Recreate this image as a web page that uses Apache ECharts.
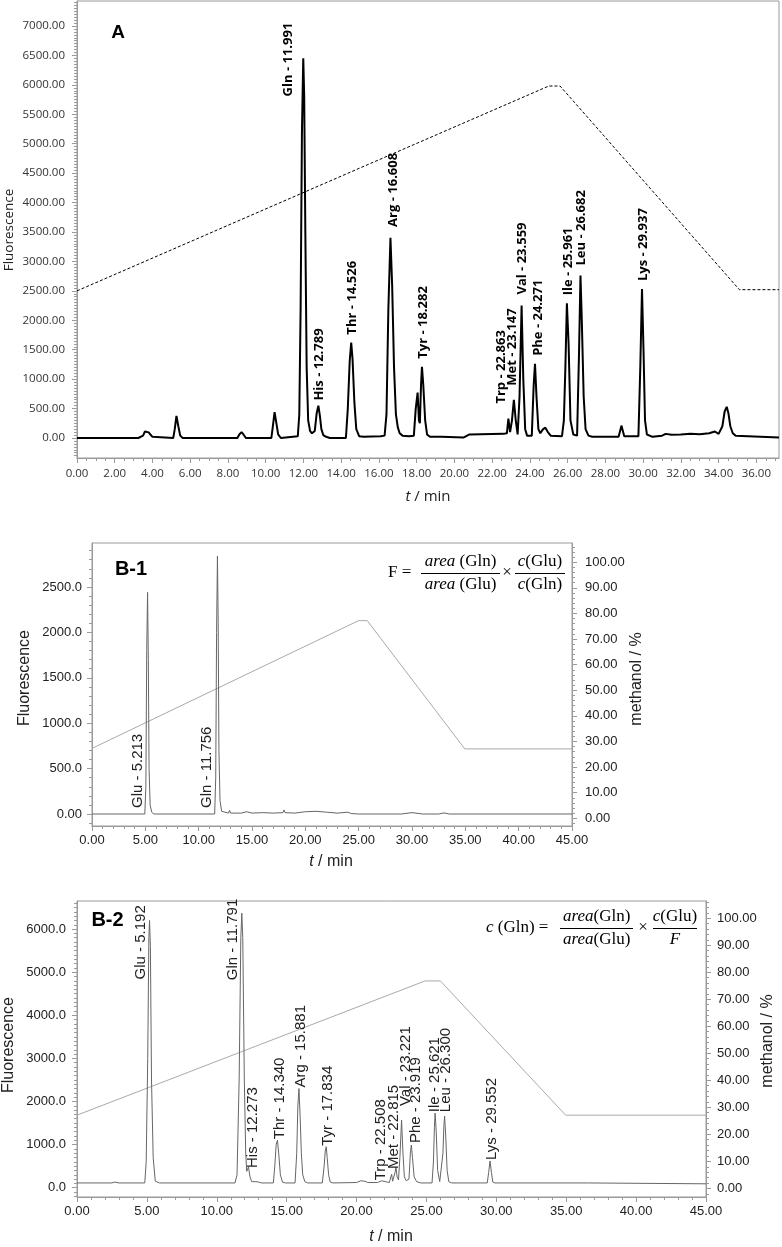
<!DOCTYPE html>
<html>
<head>
<meta charset="utf-8">
<script src="https://cdn.jsdelivr.net/npm/echarts@6/dist/echarts.min.js"></script>
<style>html,body{margin:0;padding:0;background:#fff}#c{width:782px;height:1247px}</style>
</head>
<body>
<div id="c"></div>
<script>
// ---------------- DATA ----------------
// Panel A chromatogram [t (min), fluorescence]
const traceA = [[0,0],[2.7,0],[2.8,25],[2.9,0],[3.25,0],[3.3,15],[3.35,0],[3.5,40],[3.6,110],[3.7,85],[3.8,95],[3.9,55],[4.0,20],[4.1,0],
[5.1,0],[5.18,150],[5.27,375],[5.37,200],[5.47,40],[5.6,0],
[8.5,0],[8.6,60],[8.72,100],[8.82,60],[8.95,0],
[10.3,0],[10.38,200],[10.47,440],[10.56,260],[10.66,60],[10.8,0],
[11.7,30],[11.78,400],[11.85,2200],[11.92,5200],[11.99,6450],[12.04,5800],[12.1,3500],[12.17,1200],[12.25,300],[12.35,120],[12.45,80],
[12.6,120],[12.7,420],[12.79,550],[12.87,380],[12.95,150],[13.05,50],[13.2,20],[13.4,0],
[14.25,0],[14.35,500],[14.45,1300],[14.53,1620],[14.6,1350],[14.7,600],[14.8,150],[14.95,30],[15.2,20],[15.6,25],[16.1,30],
[16.3,40],[16.4,400],[16.5,2200],[16.61,3400],[16.7,2600],[16.8,1200],[16.9,400],[17.0,180],[17.1,80],[17.25,40],[17.6,30],
[17.85,40],[17.95,500],[18.05,770],[18.12,300],[18.17,250],[18.23,900],[18.28,1210],[18.35,900],[18.45,300],[18.55,60],[18.7,20],
[19.1,20],[19.2,45],[19.3,20],[20.5,10],[20.8,60],[22.6,70],[22.78,80],[22.86,330],[22.95,100],[23.05,300],[23.15,650],[23.25,300],[23.35,60],
[23.45,700],[23.56,2250],[23.65,1000],[23.75,150],[23.85,40],[24.1,40],[24.2,900],[24.27,1260],[24.35,700],[24.45,150],[24.55,80],
[24.7,150],[24.82,175],[24.95,100],[25.1,40],[25.7,30],
[25.8,300],[25.88,1200],[25.96,2290],[26.05,1600],[26.15,300],[26.3,60],[26.5,40],[26.6,1400],[26.68,2760],[26.75,2000],[26.85,700],[26.95,150],[27.1,40],[27.3,20],
[28.7,20],[28.85,210],[29.0,30],[29.75,30],[29.85,1200],[29.94,2530],[30.02,1500],[30.1,300],[30.2,60],[30.5,20],
[31.0,40],[31.2,70],[31.5,55],[32.0,60],[32.5,70],[33.0,65],[33.5,80],[33.8,110],[34.0,70],[34.2,200],[34.32,450],[34.43,530],[34.52,420],[34.62,200],[34.75,80],[34.9,40],[35.0,10],[37.2,10]];
// Panel A gradient (dashed) on fluorescence scale
const gradientA = [[0,2500],[25.0,5980],[25.6,5980],[35.1,2520],[37.2,2520]];
const peakNamesA = ['Gln - 11.991','His - 12.789','Thr - 14.526','Arg - 16.608','Tyr - 18.282','Trp - 22.863','Met - 23.147','Val - 23.559','Phe - 24.271','Ile - 25.961','Leu - 26.682','Lys - 29.937'];
const peakTimesA = [11.99,12.79,14.53,16.61,18.28,22.86,23.15,23.56,24.27,25.96,26.68,29.94];
const peakHeightsA = [6450,550,1620,3400,1210,330,650,2250,1260,2290,2760,2530];

// Panel B-1
const traceB1 = [[0,0],[4.95,0],[5.05,300],[5.13,1800],[5.21,2440],[5.28,1700],[5.35,500],[5.45,100],[5.6,20],[5.8,0],
[11.5,0],[11.6,400],[11.68,2000],[11.76,2840],[11.83,2100],[11.9,700],[12.0,150],[12.15,30],[12.3,10],[12.8,10],[12.9,40],[13.0,10],
[14.0,10],[14.5,25],[15.0,10],[16.0,15],[17.0,10],[17.9,15],[18.0,45],[18.1,15],[19.0,10],[20.0,25],[21.0,30],[22.0,20],[23.0,10],[24.0,20],[24.3,5],[25.0,0],
[29.0,0],[30.0,15],[31.0,0],[32.5,0],[33.0,12],[33.5,0],[45,0]];
const gradientB1 = [[0,27.3],[25.0,77.2],[25.8,77.2],[34.95,27.1],[45,27.1]];
const peakNamesB1 = ['Glu - 5.213','Gln - 11.756'];
const peakTimesB1 = [5.213,11.756];
const peakHeightsB1 = [2440,2840];

// Panel B-2
const traceB2 = [[0,110],[2.5,110],[2.7,130],[3.0,110],[4.85,110],[4.95,600],[5.06,3000],[5.14,5800],[5.19,6200],[5.25,5600],[5.33,2500],[5.45,700],[5.6,150],[5.9,110],
[11.3,110],[11.45,300],[11.6,2500],[11.72,5800],[11.79,6370],[11.86,5800],[11.97,2500],[12.07,800],[12.14,380],[12.2,360],[12.27,480],[12.38,250],[12.5,140],[12.8,140],[12.9,180],[13.0,130],[13.2,110],
[14.05,110],[14.15,500],[14.25,1000],[14.34,1100],[14.43,800],[14.55,300],[14.7,130],[14.9,110],
[15.6,110],[15.72,800],[15.8,1900],[15.88,2300],[15.97,1600],[16.05,800],[16.15,300],[16.3,140],[16.5,110],
[17.55,110],[17.68,500],[17.76,850],[17.83,950],[17.9,700],[18.0,300],[18.12,130],[18.3,110],
[20.0,120],[20.3,160],[20.6,150],[20.8,120],[21.5,120],[21.8,160],[22.2,130],[22.35,120],[22.45,250],[22.51,310],[22.58,150],[22.66,140],[22.75,350],[22.82,480],[22.9,250],[23.0,180],
[23.1,700],[23.22,1570],[23.32,800],[23.42,250],[23.55,160],[23.75,200],[23.85,800],[23.92,990],[24.0,700],[24.12,250],[24.3,140],[24.6,110],
[25.4,110],[25.5,600],[25.57,1400],[25.62,1730],[25.7,1300],[25.8,400],[25.95,140],[26.08,140],[26.18,800],[26.25,1450],[26.3,1660],[26.38,1200],[26.48,400],[26.6,140],[26.8,110],
[29.35,110],[29.45,350],[29.55,620],[29.65,350],[29.75,130],[29.9,110],[36.6,110],[36.7,90],[45,90]];
const gradientB2 = [[0,27.1],[24.9,76.8],[26.0,76.8],[34.96,27.1],[45,27.1]];
const peakNamesB2 = ['Glu - 5.192','Gln - 11.791','His - 12.273','Thr - 14.340','Arg - 15.881','Tyr - 17.834','Trp - 22.508','Met - 22.815','Val - 23.221','Phe - 23.919','Ile - 25.621','Leu - 26.300','Lys - 29.552'];
const peakTimesB2 = [5.19,11.79,12.27,14.34,15.88,17.83,22.51,22.82,23.22,23.92,25.62,26.3,29.55];
const peakHeightsB2 = [6200,6370,480,1100,2300,950,310,480,1570,990,1730,1660,620];

// tick labels
const xLabelsA = [0,2,4,6,8,10,12,14,16,18,20,22,24,26,28,30,32,34,36];
const yLabelsA = [0,500,1000,1500,2000,2500,3000,3500,4000,4500,5000,5500,6000,6500,7000];
const xLabelsB = [0,5,10,15,20,25,30,35,40,45];
const yLabelsB1 = [0,500,1000,1500,2000,2500];
const yLabelsB2 = [0,1000,2000,3000,4000,5000,6000];
const yLabelsPct = [0,10,20,30,40,50,60,70,80,90,100];

// ---------------- STYLE / LAYOUT ----------------
const AX = '#9a9a9a';
const FA = '"Open Sans", "Noto Sans", sans-serif';
const FB = '"Liberation Sans", Arial, sans-serif';
const FS = '"Liberation Serif", "DejaVu Serif", serif';

const labelLayoutA = {default:{dx:1,gap:8},
  'Gln - 11.991':{dx:-15,gap:-38},'His - 12.789':{gap:5},'Arg - 16.608':{dx:3,gap:11},
  'Trp - 22.863':{dx:-7,gap:15},'Met - 23.147':{dx:-2,gap:14},'Val - 23.559':{gap:11},
  'Phe - 24.271':{dx:3},'Leu - 26.682':{gap:10}};
const labelLayoutB1 = {default:{dx:-10,gap:6,base:true},'Gln - 11.756':{dx:-11}};
const labelLayoutB2 = {default:{dx:2,gap:1},
  'Glu - 5.192':{dx:-8.5,gap:-59},'Gln - 11.791':{dx:-9,gap:-67},'His - 12.273':{dx:4.5,gap:-1},
  'Trp - 22.508':{dx:-11,gap:-6},'Met - 22.815':{dx:-2,gap:-2},'Val - 23.221':{dx:4,gap:14},
  'Phe - 23.919':{dx:5,gap:2},'Ile - 25.621':{dx:0},'Leu - 26.300':{dx:1,gap:4}};

function range(a,b,s){const r=[];for(let v=a;v<=b+1e-9;v+=s)r.push(+v.toFixed(6));return r;}

function axisPair(gi,pos,min,max,labels,minorStep,fmt,fam,size,margin,majorLen,minorLen,lblColor){
  const common={type:'value',gridIndex:gi,position:pos,min:min,max:max,
    splitLine:{show:false},minorSplitLine:{show:false},minorTick:{show:false}};
  const minor=range(Math.ceil(min/minorStep)*minorStep,max,minorStep);
  return [
    Object.assign({},common,{
      axisLine:{show:true,onZero:false,lineStyle:{color:AX,width:1}},
      axisTick:{show:true,inside:false,length:minorLen,customValues:minor,lineStyle:{color:AX}},
      axisLabel:{show:true,customValues:labels,formatter:fmt,margin:margin,color:lblColor||'#222',
        fontFamily:fam,fontSize:size,hideOverlap:false,showMinLabel:true,showMaxLabel:true}
    }),
    Object.assign({},common,{
      axisLine:{show:false,onZero:false},
      axisTick:{show:true,inside:false,length:majorLen,customValues:labels,lineStyle:{color:AX}},
      axisLabel:{show:false}
    })
  ];
}

function labelSeries(xi,yi,names,times,heights,layout,font,color){
  return {type:'custom',xAxisIndex:xi,yAxisIndex:yi,clip:false,silent:true,z:10,animation:false,
    data:times.map((t,i)=>[t,heights[i]]),
    renderItem:function(params,api){
      const i=params.dataIndex;
      const lay=Object.assign({},layout.default,layout[names[i]]||{});
      const p=api.coord([api.value(0), lay.base?0:api.value(1)]);
      return {type:'text',x:p[0]+(lay.dx||0),y:p[1]-(lay.gap||0),rotation:Math.PI/2,
        style:{text:names[i],font:font,fill:color,align:'left',verticalAlign:'middle',
          textAlign:'left',textVerticalAlign:'middle'}};
    }};
}

function txt(x,y,text,font,opts){
  opts=opts||{};
  const st={text:text,font:font,fill:opts.fill||'#111',
    align:opts.align||'center',verticalAlign:'middle',textAlign:opts.align||'center',textVerticalAlign:'middle'};
  if(opts.rich) st.rich=opts.rich;
  return {type:'text',x:x,y:y,rotation:opts.rot||0,silent:true,z:100,style:st};
}
function hline(x1,x2,y){return {type:'line',silent:true,z:100,shape:{x1:x1,y1:y,x2:x2,y2:y},style:{stroke:'#000',lineWidth:1}};}

const f2=v=>v.toFixed(2);
const xAxes=[].concat(
  axisPair(0,'bottom',0,37.2,xLabelsA,0.5,f2,FA,11.5,10,5,3,'#333'),
  axisPair(1,'bottom',0,45,xLabelsB,1,f2,FB,13,8,5,3),
  axisPair(2,'bottom',0,45,xLabelsB,1,f2,FB,13,8,5,3)
);
const yAxes=[].concat(
  axisPair(0,'left',-340,7425,yLabelsA,50,f2,FA,11.5,12,5,3,'#333'),
  axisPair(1,'left',-132,2984,yLabelsB1,100,v=>v===0?'0.00':v.toFixed(1),FB,13,10,5,3),
  axisPair(1,'right',-3.0,107.5,yLabelsPct,2,f2,FB,13,13,5,3),
  axisPair(2,'left',-216,6652,yLabelsB2,100,v=>v.toFixed(1),FB,13,11,5,3),
  axisPair(2,'right',-3.2,106.4,yLabelsPct,2,f2,FB,13,11,5,3)
);

const italicSerif='italic 17px '+FS;
const serif='17px '+FS;
const richI={i:{font:italicSerif,fill:'#000'}};

const option={
  animation:false,
  backgroundColor:'#fff',
  grid:[
    {left:77,top:1,width:702,height:457,show:true,borderColor:AX,borderWidth:1,containLabel:false},
    {left:92,top:543,width:480,height:283,show:true,borderColor:AX,borderWidth:1,containLabel:false},
    {left:77,top:901,width:629,height:296,show:true,borderColor:AX,borderWidth:1,containLabel:false}
  ],
  xAxis:xAxes,
  yAxis:yAxes,
  series:[
    {type:'line',xAxisIndex:0,yAxisIndex:0,data:gradientA,symbol:'none',silent:true,z:2,
      lineStyle:{color:'#000',width:1,type:[3,2]}},
    {type:'line',xAxisIndex:0,yAxisIndex:0,data:traceA,symbol:'none',silent:true,z:3,
      lineStyle:{color:'#000',width:2}},
    labelSeries(0,0,peakNamesA,peakTimesA,peakHeightsA,labelLayoutA,'bold 13px '+FA,'#000'),

    {type:'line',xAxisIndex:2,yAxisIndex:4,data:gradientB1,symbol:'none',silent:true,z:2,
      lineStyle:{color:'#aaa',width:1}},
    {type:'line',xAxisIndex:2,yAxisIndex:2,data:traceB1,symbol:'none',silent:true,z:3,
      lineStyle:{color:'#666',width:1}},
    labelSeries(2,2,peakNamesB1,peakTimesB1,peakHeightsB1,labelLayoutB1,'15px '+FB,'#222'),

    {type:'line',xAxisIndex:4,yAxisIndex:8,data:gradientB2,symbol:'none',silent:true,z:2,
      lineStyle:{color:'#aaa',width:1}},
    {type:'line',xAxisIndex:4,yAxisIndex:6,data:traceB2,symbol:'none',silent:true,z:3,
      lineStyle:{color:'#666',width:1}},
    labelSeries(4,6,peakNamesB2,peakTimesB2,peakHeightsB2,labelLayoutB2,'15px '+FB,'#222')
  ],
  graphic:[
    // panel letters
    txt(118,33,'A','bold 19px '+FB,{fill:'#000'}),
    txt(131,569,'B-1','bold 20px '+FB,{fill:'#000'}),
    txt(107.5,920,'B-2','bold 20px '+FB,{fill:'#000'}),
    // axis titles A
    txt(9,230,'Fluorescence','13.5px '+FA,{rot:Math.PI/2,fill:'#222'}),
    txt(428,497,'{i|t} / min','15px '+FA,{fill:'#222',rich:{i:{font:'italic 15px '+FA,fill:'#222'}}}),
    // axis titles B-1
    txt(25,678,'Fluorescence','16px '+FB,{rot:Math.PI/2,fill:'#222'}),
    txt(637,679,'methanol / %','16px '+FB,{rot:Math.PI/2,fill:'#222'}),
    txt(331,862,'{i|t} / min','16px '+FB,{fill:'#222',rich:{i:{font:'italic 16px '+FB,fill:'#222'}}}),
    // axis titles B-2
    txt(9,1045,'Fluorescence','16px '+FB,{rot:Math.PI/2,fill:'#222'}),
    txt(768,1041,'methanol / %','16px '+FB,{rot:Math.PI/2,fill:'#222'}),
    txt(391,1237,'{i|t} / min','16px '+FB,{fill:'#222',rich:{i:{font:'italic 16px '+FB,fill:'#222'}}}),
    // formula B-1
    txt(388,573,'F =',serif,{align:'left',fill:'#000'}),
    txt(460.5,562,'{i|area} (Gln)',serif,{fill:'#000',rich:richI}),
    hline(421,500,573.5),
    txt(460.5,585,'{i|area} (Glu)',serif,{fill:'#000',rich:richI}),
    txt(507,573,'×',serif,{fill:'#000'}),
    txt(540,562,'{i|c}(Glu)',serif,{fill:'#000',rich:richI}),
    hline(515,565,573.5),
    txt(540,585,'{i|c}(Gln)',serif,{fill:'#000',rich:richI}),
    // formula B-2
    txt(486,928,'{i|c} (Gln) =',serif,{align:'left',fill:'#000',rich:richI}),
    txt(596.7,917,'{i|area}(Gln)',serif,{fill:'#000',rich:richI}),
    hline(560,633,928.5),
    txt(596.7,940,'{i|area}(Glu)',serif,{fill:'#000',rich:richI}),
    txt(643,928,'×',serif,{fill:'#000'}),
    txt(675,917,'{i|c}(Glu)',serif,{fill:'#000',rich:richI}),
    hline(653,697,928.5),
    txt(675,940,'{i|F}',serif,{fill:'#000',rich:richI})
  ]
};

const chart=echarts.init(document.getElementById('c'),null,{renderer:'canvas',width:782,height:1247});
chart.setOption(option);
</script>
</body>
</html>
